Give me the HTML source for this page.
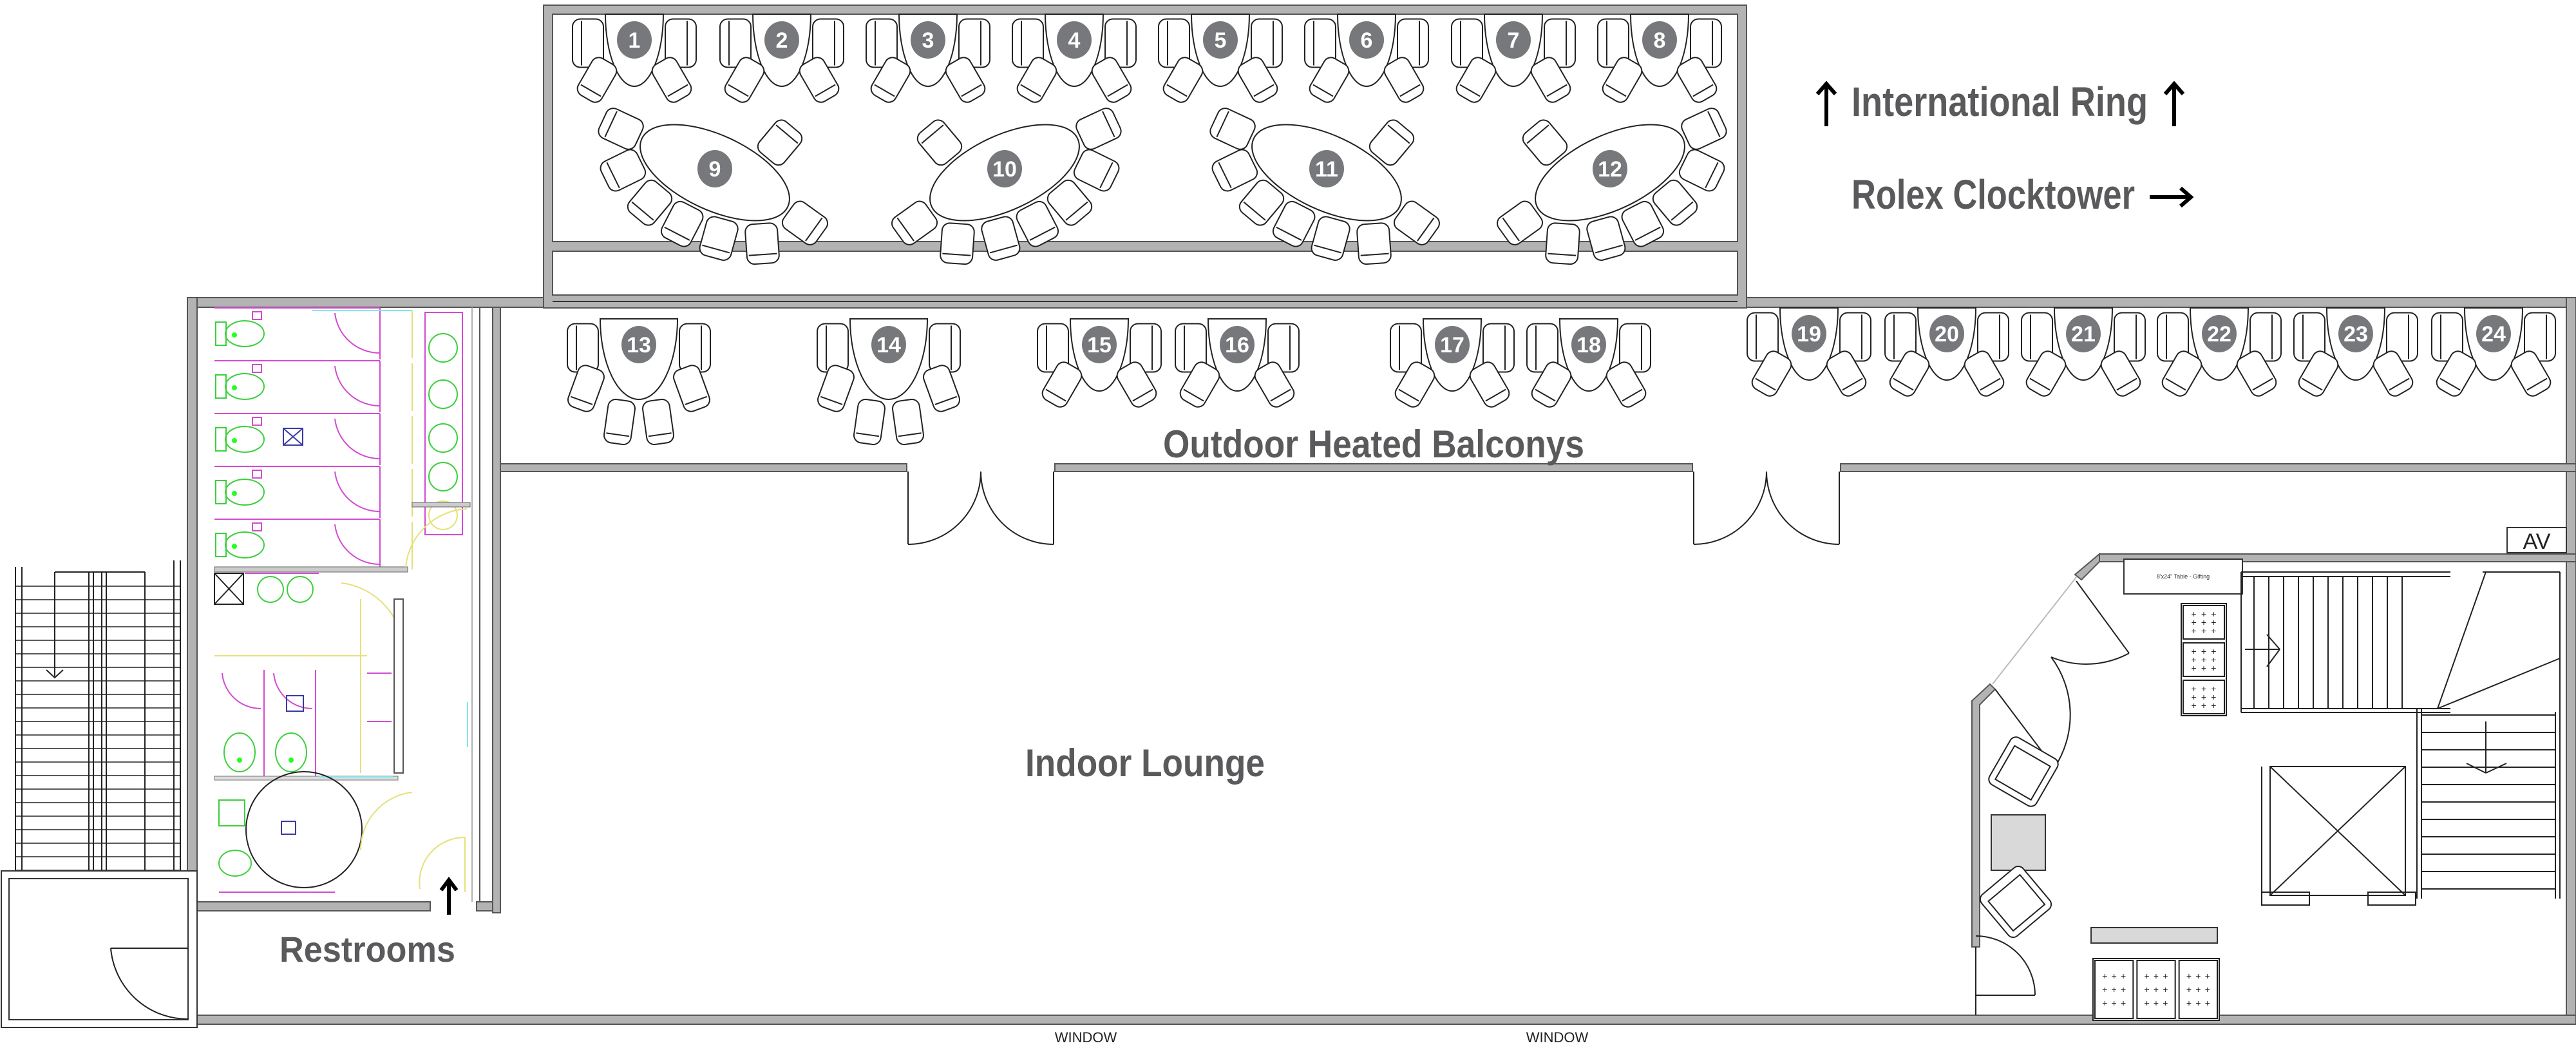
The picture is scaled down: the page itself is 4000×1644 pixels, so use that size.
<!DOCTYPE html>
<html><head><meta charset="utf-8"><style>
html,body{margin:0;padding:0;background:#fff}
svg{display:block}
.c{fill:#fff;stroke:#222;stroke-width:2}
.w{fill:#b3b3b3;stroke:#555;stroke-width:2}
.l{fill:none;stroke:#222;stroke-width:2}
.t{font-family:"Liberation Sans Narrow","Liberation Sans",sans-serif;font-weight:bold;fill:#5a5a5c}
.n{font-family:"Liberation Sans Narrow","Liberation Sans",sans-serif;font-weight:bold;fill:#fff;font-size:34px;text-anchor:middle}
.pk{stroke:#d24bd2;stroke-width:2;fill:none}
.gr{stroke:#3ccf3c;stroke-width:2;fill:none}
.ye{stroke:#e6e07a;stroke-width:2;fill:none}
.cy{stroke:#7fe6ee;stroke-width:2;fill:none}
.bl{stroke:#3a3aa0;stroke-width:2;fill:none}
</style></head><body>
<svg id="s" xmlns="http://www.w3.org/2000/svg" width="4000" height="1644" viewBox="0 0 4000 1644">
<rect width="4000" height="1644" fill="#fff"/>
<rect class="w" x="844" y="8" width="1868" height="470"/>
<rect fill="#fff" stroke="#555" stroke-width="2" x="858" y="22" width="1840" height="353"/>
<rect fill="#fff" stroke="#555" stroke-width="2" x="858" y="390" width="1840" height="68"/>
<line x1="858" y1="468" x2="2698" y2="468" stroke="#333" stroke-width="2"/>
<rect class="w" x="291" y="462" width="553" height="15"/>
<rect class="w" x="2712" y="462" width="1288" height="15"/>
<rect class="w" x="291" y="462" width="15" height="954"/>
<rect class="w" x="3985" y="462" width="15" height="1128"/>
<rect class="w" x="306" y="1576" width="3694" height="14"/>
<rect class="w" x="765" y="720" width="643" height="12"/>
<rect class="w" x="1638" y="720" width="990" height="12"/>
<rect class="w" x="2858" y="720" width="1142" height="12"/>
<rect class="w" x="765" y="477" width="12" height="940"/>
<rect class="w" x="306" y="1400" width="362" height="14"/>
<rect class="w" x="740" y="1400" width="25" height="14"/>
<line x1="745" y1="477" x2="745" y2="1400" stroke="#555" stroke-width="2"/>
<line x1="733" y1="477" x2="733" y2="1400" stroke="#999" stroke-width="1.5"/>
<g class="l">
<line x1="1410" y1="732" x2="1410" y2="845"/><line x1="1636" y1="732" x2="1636" y2="845"/>
<path d="M1410 845 A113 113 0 0 0 1523 732 M1636 845 A113 113 0 0 1 1523 732"/>
<line x1="2630" y1="732" x2="2630" y2="845"/><line x1="2856" y1="732" x2="2856" y2="845"/>
<path d="M2630 845 A113 113 0 0 0 2743 732 M2856 845 A113 113 0 0 1 2743 732"/>
</g>
<g id="lst"></g>
<rect fill="#fff" stroke="#333" stroke-width="2" x="2" y="1352" width="304" height="243"/>
<rect fill="none" stroke="#333" stroke-width="2" x="14" y="1364" width="278" height="219"/>
<path class="l" d="M292 1472 L172 1472 M172 1472 A120 120 0 0 0 292 1582"/>
<rect class="w" x="3260" y="860" width="740" height="12"/>
<polygon class="w" points="3260,860 3260,872 3232,900 3222,892"/>
<polygon class="w" points="3090,1062 3098,1070 3074,1094 3074,1470 3062,1470 3062,1088"/>
<rect fill="#fff" stroke="#333" stroke-width="2" x="3893" y="819" width="92" height="39"/>
<text x="3939" y="852" font-family="Liberation Sans,sans-serif" font-size="34" text-anchor="middle" fill="#222">AV</text>
<g class="l">
<line x1="3224" y1="896" x2="3094" y2="1062" stroke="#bbb"/>
<line x1="3224" y1="902" x2="3306" y2="1014"/>
<path d="M3306 1014 A140 140 0 0 1 3185 1020"/>
<line x1="3098" y1="1070" x2="3190" y2="1192"/>
<path d="M3190 1192 A150 150 0 0 0 3185 1020"/>
<path d="M3068 1545 L3160 1545 M3068 1453 A92 92 0 0 1 3160 1545"/>
<line x1="3068" y1="1470" x2="3068" y2="1576"/>
</g>
<rect fill="#fff" stroke="#333" stroke-width="2" x="3298" y="868" width="184" height="54"/>
<text x="3390" y="898" font-family="Liberation Sans,sans-serif" font-size="9" text-anchor="middle" fill="#333">8'x24" Table - Gifting</text>
<rect fill="#d9d9d9" stroke="#333" stroke-width="2" x="3092" y="1265" width="84" height="86"/>
<rect fill="#d9d9d9" stroke="#333" stroke-width="2" x="3247" y="1440" width="196" height="24"/>
<g id="rr"></g>
<g class="l">
<rect x="3525" y="1190" width="210" height="200"/>
<line x1="3525" y1="1190" x2="3735" y2="1390"/><line x1="3735" y1="1190" x2="3525" y2="1390"/>
<line x1="3512" y1="1190" x2="3512" y2="1405"/>
<rect x="3512" y="1385" width="74" height="20"/><rect x="3677" y="1385" width="74" height="20"/>
</g>
<text class="t" x="2875" y="180" font-size="64" textLength="460" lengthAdjust="spacingAndGlyphs">International Ring</text>
<text class="t" x="2875" y="324" font-size="64" textLength="440" lengthAdjust="spacingAndGlyphs">Rolex Clocktower</text>
<g stroke="#000" stroke-width="6" fill="none">
<line x1="2836" y1="196" x2="2836" y2="132"/><path d="M2822 146 L2836 130 L2850 146"/>
<line x1="3376" y1="196" x2="3376" y2="132"/><path d="M3362 146 L3376 130 L3390 146"/>
<line x1="3338" y1="306" x2="3400" y2="306"/><path d="M3386 292 L3402 306 L3386 320"/>
<line x1="697" y1="1420" x2="697" y2="1368"/><path d="M685 1382 L697 1366 L709 1382"/>
</g>
<text class="t" x="1806" y="710" font-size="60" textLength="654" lengthAdjust="spacingAndGlyphs">Outdoor Heated Balconys</text>
<text class="t" x="1592" y="1205" font-size="60" textLength="372" lengthAdjust="spacingAndGlyphs">Indoor Lounge</text>
<text x="434" y="1493" font-family="Liberation Sans,sans-serif" font-weight="bold" fill="#5a5a5c" font-size="56" textLength="273" lengthAdjust="spacingAndGlyphs">Restrooms</text>
<text x="1686" y="1618" font-family="Liberation Sans,sans-serif" font-size="22" text-anchor="middle" fill="#222">WINDOW</text>
<text x="2418" y="1618" font-family="Liberation Sans,sans-serif" font-size="22" text-anchor="middle" fill="#222">WINDOW</text>
<g id="g"></g>
</svg>
<script>
const S='http://www.w3.org/2000/svg';
const G=document.getElementById('g');
function el(t,a,p){const e=document.createElementNS(S,t);for(const k in a)e.setAttribute(k,a[k]);(p||G).appendChild(e);return e;}
function chair(x,y,w,h,ang,p){
 const gg=el('g',{transform:`translate(${x},${y}) rotate(${ang})`},p);
 el('rect',{x:-w/2,y:-h/2,width:w,height:h,rx:12,class:'c'},gg);
 el('line',{x1:-w/2+3,y1:h/2-14,x2:w/2-3,y2:h/2-14,class:'c'},gg);
}
function num(x,y,n,r){el('ellipse',{cx:x,cy:y,rx:r||27,ry:(r||27)+2,fill:'#77787b'});const t=el('text',{x:x,y:y+12,class:'n'});t.textContent=n;}
function dt(cx,top,n,wide){
 const hw=wide?60:45,d=wide?125:112;
 el('path',{d:`M${cx-hw} ${top} L${cx+hw} ${top} C${cx+hw} ${top+d*0.55},${cx+hw*0.55} ${top+d},${cx} ${top+d} C${cx-hw*0.55} ${top+d},${cx-hw} ${top+d*0.55},${cx-hw} ${top} Z`,class:'c'});
 chair(cx-hw-27,top+45,75,48,90);chair(cx+hw+27,top+45,75,48,-90);
 if(wide){chair(cx-82,top+108,42,68,20);chair(cx+82,top+108,42,68,-20);chair(cx-30,top+160,42,68,8);chair(cx+30,top+160,42,68,-8);}
 else{chair(cx-58,top+102,42,66,30);chair(cx+58,top+102,42,66,-30);}
 num(cx,top+40,n);
}
[985,1214,1441,1668,1895,2122,2350,2577].forEach((x,i)=>dt(x,22,i+1));
[992,1380].forEach((x,i)=>dt(x,495,13+i,true));
[1707,1921,2255,2467].forEach((x,i)=>dt(x,495,15+i));
[2809,3023,3235,3446,3658,3872].forEach((x,i)=>dt(x,478,19+i));
function oval(cx,cy,rot,n,ts){
 const rx=125,ry=58,a=rot*Math.PI/180;
 ts.forEach(t=>{const tr=t*Math.PI/180;let px=rx*Math.cos(tr),py=ry*Math.sin(tr);
  let nx=Math.cos(tr)/rx,ny=Math.sin(tr)/ry;const L=Math.hypot(nx,ny);nx/=L;ny/=L;
  px+=nx*36;py+=ny*36;
  const X=cx+px*Math.cos(a)-py*Math.sin(a),Y=cy+px*Math.sin(a)+py*Math.cos(a);
  const NX=nx*Math.cos(a)-ny*Math.sin(a),NY=nx*Math.sin(a)+ny*Math.cos(a);
  const ang=Math.atan2(NY,NX)*180/Math.PI-90;
  chair(X,Y,50,62,ang);});
 el('ellipse',{cx:cx,cy:cy,rx:rx,ry:ry,transform:`rotate(${rot} ${cx} ${cy})`,class:'c'});
 num(cx,cy-6,n);
}
oval(1110,268,25,9,[180,300,5,40,70,95,120,150]);
oval(1560,268,-25,10,[0,240,175,140,110,85,60,30]);
oval(2060,268,25,11,[180,300,5,40,70,95,120,150]);
oval(2500,268,-25,12,[0,240,175,140,110,85,60,30]);
const L=document.getElementById('lst');
for(let y=910;y<=1352;y+=21)el('line',{x1:24,y1:y,x2:280,y2:y,stroke:'#222','stroke-width':1.5},L);
[[24,880,24,1352],[34,880,34,1352],[270,870,270,1352],[280,870,280,1352],[138,888,138,1352],[165,888,165,1352],[145,888,145,1352],[158,888,158,1352],[85,888,225,888],[225,888,225,1352],[85,888,85,1050]].forEach(c=>el('line',{x1:c[0],y1:c[1],x2:c[2],y2:c[3],stroke:'#222','stroke-width':2},L));
el('path',{d:'M72 1040 L85 1052 L98 1040',fill:'none',stroke:'#222','stroke-width':2},L);
const R=document.getElementById('rr');
function ln(x1,y1,x2,y2,c,w){el('line',{x1,y1,x2,y2,stroke:c||'#222','stroke-width':w||2},R);}
ln(3480,888,3805,888);ln(3480,895,3805,895);ln(3480,1100,3805,1100);ln(3480,1106,3805,1106);
ln(3480,888,3480,1106);
for(let x=3500;x<=3745;x+=23)ln(x,895,x,1100);
ln(3785,1100,3860,888);ln(3785,1100,3975,1022);
ln(3975,888,3975,1110);ln(3855,888,3975,888);
ln(3753,1100,3753,1395);ln(3760,1100,3760,1395);ln(3968,1105,3968,1395);ln(3975,1105,3975,1395);
for(let y=1110;y<=1380;y+=27)ln(3760,y,3968,y);
ln(3860,1120,3860,1200);ln(3830,1185,3860,1200);ln(3860,1200,3892,1185);
ln(3486,1008,3540,1008);ln(3520,985,3540,1008);ln(3540,1008,3520,1035);
function bench(x,y,w,h,cols,rows,vert){el('rect',{x,y,width:w,height:h,class:'c'},R);
 const n=vert?rows:cols;for(let i=0;i<n;i++){const bx=vert?x:x+i*w/n,by=vert?y+i*h/n:y,bw=vert?w:w/n,bh=vert?h/n:h;
  el('rect',{x:bx+3,y:by+3,width:bw-6,height:bh-6,class:'c'},R);
  for(let a=0;a<3;a++)for(let b=0;b<3;b++){const cx=bx+bw/2+(a-1)*bw*0.22,cy=by+bh/2+(b-1)*bh*0.22;
   const t=el('text',{x:cx,y:cy+5,'font-size':14,'text-anchor':'middle','font-family':'Liberation Sans,sans-serif',fill:'#222'},R);t.textContent='+';}}}
bench(3387,937,70,174,1,3,true);bench(3250,1488,196,96,3,1,false);
function arm(x,y,ang){const gg=el('g',{transform:`translate(${x},${y}) rotate(${ang})`},R);
 el('rect',{x:-42,y:-42,width:84,height:84,rx:10,class:'c'},gg);el('rect',{x:-32,y:-28,width:64,height:60,class:'c'},gg);}
arm(3142,1198,30);arm(3130,1400,-40);
function c(tag,a,cls){a.class=cls;el(tag,a,R);}
// women's stalls
const rows=[478,560,642,724,806,878];
for(let i=0;i<5;i++){const y=rows[i];c('line',{x1:333,y1:y,x2:590,y2:y},'pk');
 c('ellipse',{cx:380,cy:y+40,rx:30,ry:20},'gr');c('rect',{x:335,y:y+22,width:16,height:36},'gr');
 el('circle',{cx:364,cy:y+42,r:4,fill:'#2f2'},R);
 c('rect',{x:392,y:y+6,width:14,height:12},'pk');
 c('path',{d:`M520 ${y+8} A70 70 0 0 0 590 ${y+70}`},'pk');c('line',{x1:590,y1:y,x2:590,y2:y+80},'pk');
 c('line',{x1:640,y1:y+4,x2:640,y2:y+78},'ye');}
c('rect',{x:440,y:665,width:30,height:26},'bl');c('line',{x1:440,y1:665,x2:470,y2:691},'bl');c('line',{x1:470,y1:665,x2:440,y2:691},'bl');
c('line',{x1:485,y1:482,x2:640,y2:482},'cy');
c('rect',{x:660,y:485,width:58,height:345},'pk');
[540,612,680,740].forEach(y=>c('circle',{cx:688,cy:y,r:22},'gr'));
c('circle',{cx:688,cy:800,r:22},'ye');
el('rect',{x:640,y:780,width:90,height:7,fill:'#ccc',stroke:'#666'},R);
el('rect',{x:333,y:880,width:300,height:8,fill:'#ccc',stroke:'#666'},R);
c('rect',{x:333,y:890,width:45,height:48},'l');c('line',{x1:333,y1:890,x2:378,y2:938},'l');c('line',{x1:378,y1:890,x2:333,y2:938},'l');
c('line',{x1:380,y1:890,x2:495,y2:890},'pk');
c('circle',{cx:420,cy:915,r:20},'gr');c('circle',{cx:466,cy:915,r:20},'gr');
c('path',{d:'M725 790 A100 100 0 0 0 630 880'},'ye');
c('path',{d:'M530 905 A110 110 0 0 1 625 995'},'ye');
c('line',{x1:333,y1:1018,x2:570,y2:1018},'ye');
c('line',{x1:560,y1:930,x2:560,y2:1200},'ye');
el('rect',{x:612,y:930,width:14,height:270,fill:'#fff',stroke:'#555','stroke-width':2},R);
// men's
[[372,1168],[452,1168]].forEach(([x,y])=>{c('ellipse',{cx:x,cy:y,rx:24,ry:30},'gr');el('circle',{cx:x,cy:y+12,r:4,fill:'#2f2'},R);});
c('path',{d:'M345 1045 A60 60 0 0 0 405 1100 M425 1045 A60 60 0 0 0 485 1100'},'pk');
c('line',{x1:410,y1:1040,x2:410,y2:1205},'pk');c('line',{x1:490,y1:1040,x2:490,y2:1205},'pk');
c('rect',{x:445,y:1080,width:26,height:24},'bl');
c('line',{x1:570,y1:1045,x2:608,y2:1045},'pk');c('line',{x1:570,y1:1120,x2:608,y2:1120},'pk');
el('rect',{x:333,y:1205,width:285,height:6,fill:'#ddd',stroke:'#777'},R);
c('line',{x1:495,y1:1206,x2:610,y2:1206},'cy');
c('circle',{cx:472,cy:1288,r:90},'l');
c('rect',{x:437,y:1275,width:22,height:20},'bl');
c('rect',{x:340,y:1242,width:40,height:40},'gr');c('ellipse',{cx:365,cy:1340,rx:25,ry:20},'gr');
c('line',{x1:340,y1:1385,x2:520,y2:1385},'pk');
c('path',{d:'M640 1230 A90 90 0 0 0 560 1320 M722 1300 A70 70 0 0 0 652 1380'},'ye');
c('line',{x1:722,y1:1300,x2:722,y2:1385},'ye');
c('line',{x1:726,y1:1090,x2:726,y2:1160},'cy');
</script>
</body></html>
